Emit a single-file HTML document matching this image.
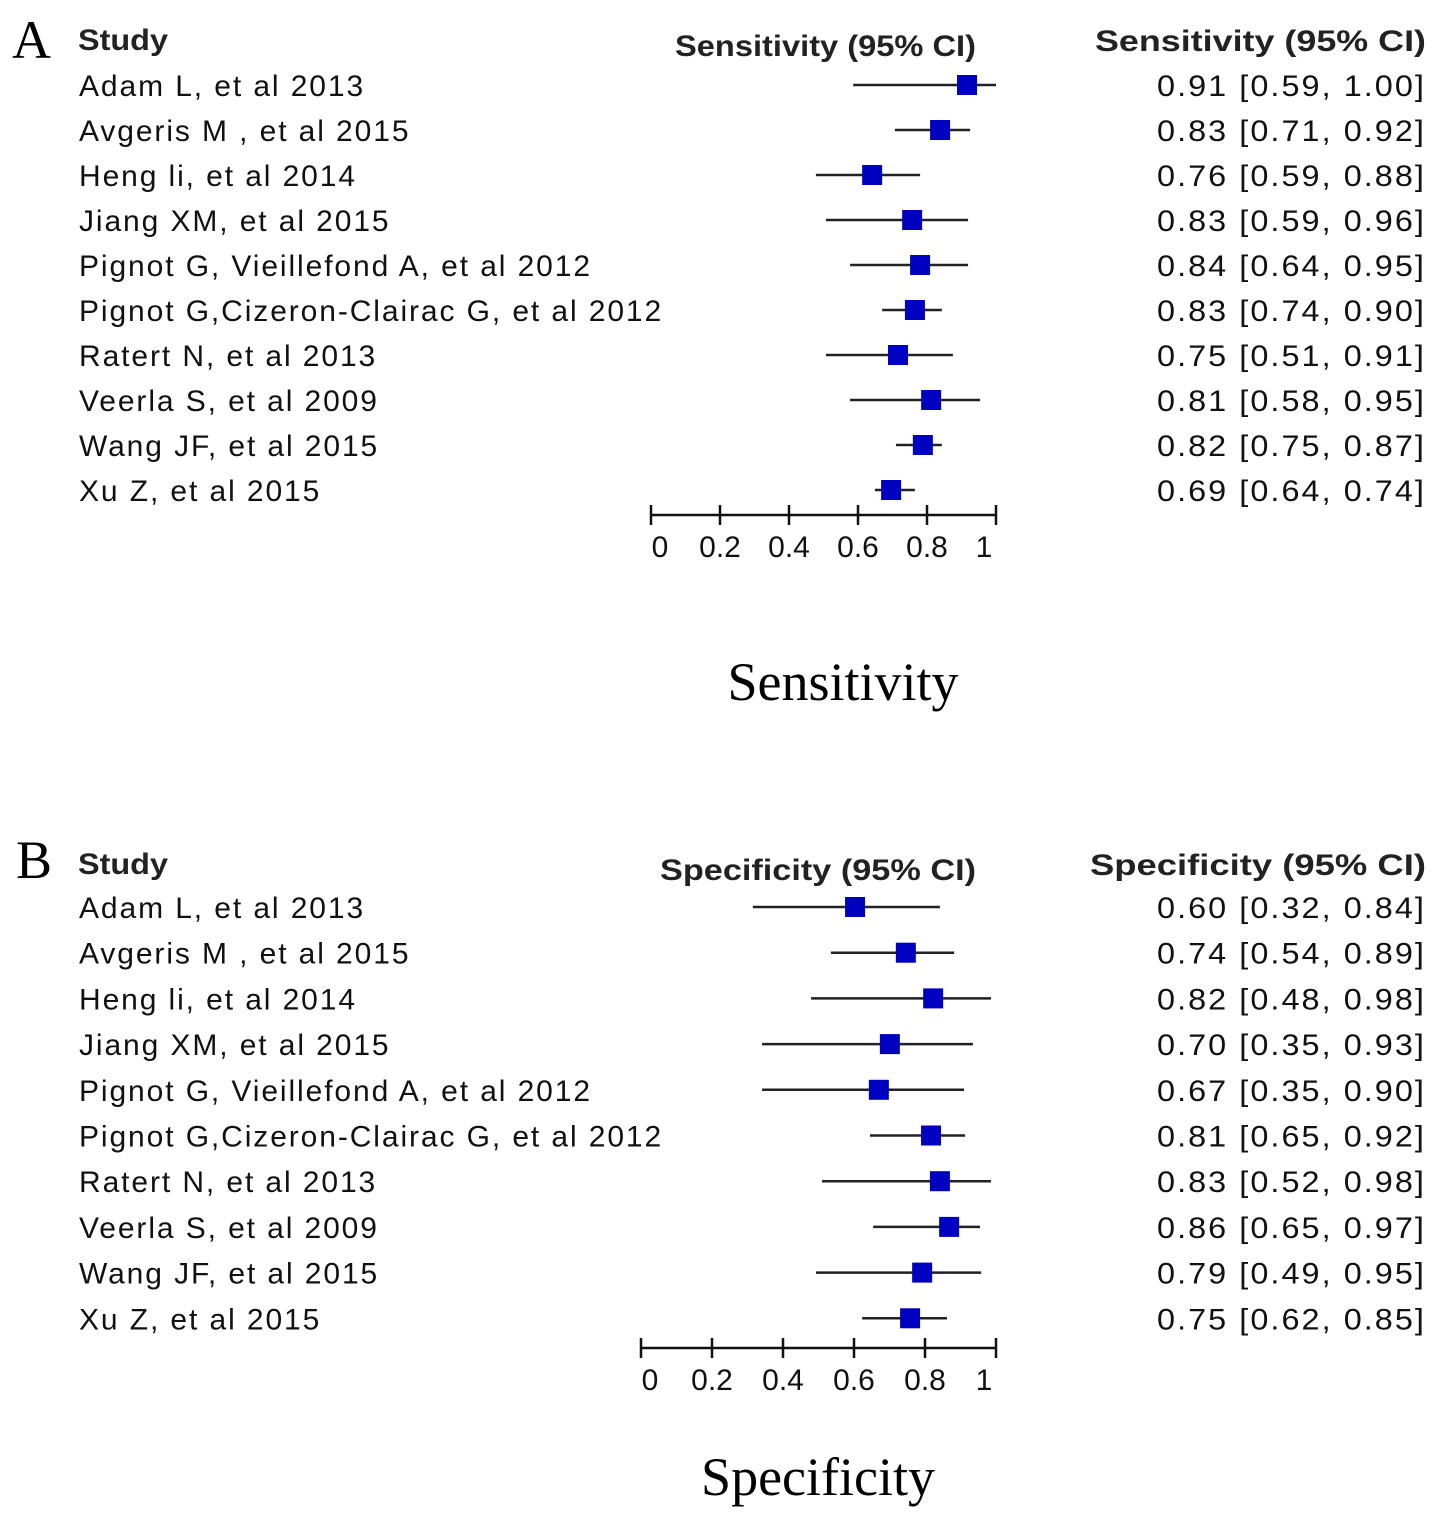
<!DOCTYPE html>
<html><head><meta charset="utf-8"><style>
body{margin:0;background:#fff}
svg{display:block}
.lab{font-family:"Liberation Sans",sans-serif;font-size:30px;letter-spacing:1.9px;fill:#111}
.hdr{font-family:"Liberation Sans",sans-serif;font-size:30px;font-weight:bold;fill:#222}
.tick{font-family:"Liberation Sans",sans-serif;font-size:30px;fill:#111}
.ttl{font-family:"Liberation Serif",serif;font-size:54px;fill:#000}
</style></head><body>
<svg id="chart" width="1441" height="1522" viewBox="0 0 1441 1522"></svg>
<script>
const studies=["Adam L, et al 2013","Avgeris M , et al 2015","Heng li, et al 2014","Jiang XM, et al 2015","Pignot G, Vieillefond A, et al 2012","Pignot G,Cizeron-Clairac G, et al 2012","Ratert N, et al 2013","Veerla S, et al 2009","Wang JF, et al 2015","Xu Z, et al 2015"];
const sensEst=[0.91,0.83,0.76,0.83,0.84,0.83,0.75,0.81,0.82,0.69];
const sensLo=[0.59,0.71,0.59,0.59,0.64,0.74,0.51,0.58,0.75,0.64];
const sensHi=[1.00,0.92,0.88,0.96,0.95,0.90,0.91,0.95,0.87,0.74];
// positions of marks as drawn in the source figure (plotted values)
const sensPlotEst=[0.916,0.838,0.641,0.757,0.780,0.765,0.716,0.812,0.788,0.696];
const sensPlotLo=[0.586,0.707,0.478,0.507,0.577,0.670,0.507,0.577,0.710,0.649];
const sensPlotHi=[1.0,0.925,0.780,0.919,0.919,0.843,0.875,0.954,0.843,0.765];
const specEst=[0.60,0.74,0.82,0.70,0.67,0.81,0.83,0.86,0.79,0.75];
const specLo=[0.32,0.54,0.48,0.35,0.35,0.65,0.52,0.65,0.49,0.62];
const specHi=[0.84,0.89,0.98,0.93,0.90,0.92,0.98,0.97,0.95,0.85];
const specPlotEst=[0.603,0.746,0.823,0.701,0.670,0.817,0.842,0.868,0.792,0.758];
const specPlotLo=[0.315,0.535,0.479,0.341,0.341,0.645,0.510,0.654,0.493,0.623];
const specPlotHi=[0.842,0.882,0.986,0.935,0.910,0.913,0.986,0.955,0.958,0.862];
const ticks=[0,0.2,0.4,0.6,0.8,1];
const tickLabels=["0","0.2","0.4","0.6","0.8","1"];
const NS="http://www.w3.org/2000/svg";
const svg=document.getElementById('chart');
function mk(tag,attrs,txt){const e=document.createElementNS(NS,tag);for(const k in attrs)e.setAttribute(k,attrs[k]);if(txt!==undefined)e.textContent=txt;svg.appendChild(e);return e;}
function panel(p){
  const x=v=>p.x0+v*(p.x1-p.x0);
  const y=i=>p.y0+i*p.dy;
  let e;
  e=mk('text',{x:p.lx,y:p.ly,class:'ttl','font-size':50},p.letter);
  
  
  e=mk('text',{x:78,y:p.hy+2,class:'hdr','font-size':32,textLength:90,lengthAdjust:'spacingAndGlyphs'},'Study');
  
  
  e=mk('text',{x:p.h1x,y:p.hy+8,class:'hdr',textLength:p.h1w,lengthAdjust:'spacingAndGlyphs'},p.name+' (95% CI)');
  
  
  e=mk('text',{x:p.h2x,y:p.hy+3,class:'hdr',textLength:1426-p.h2x,lengthAdjust:'spacingAndGlyphs'},p.name+' (95% CI)');
  
  
  for(let i=0;i<studies.length;i++){
    e=mk('text',{x:79,y:y(i)+11,class:'lab'},studies[i]);
    
    
    e=mk('line',{x1:x(p.plo[i]),x2:x(p.phi[i]),y1:y(i),y2:y(i),stroke:'#222','stroke-width':2.5});
    
    
    e=mk('rect',{x:x(p.pest[i])-10,y:y(i)-10,width:20,height:20,fill:'#0000c0'});
    
    
    e=mk('text',{x:1157,y:y(i)+11,class:'lab',textLength:269,lengthAdjust:'spacingAndGlyphs'},p.est[i].toFixed(2)+' ['+p.lo[i].toFixed(2)+', '+p.hi[i].toFixed(2)+']');
    
    
  }
  e=mk('line',{x1:x(0),x2:x(1),y1:p.ay,y2:p.ay,stroke:'#111','stroke-width':2.5});
  
  
  ticks.forEach((t,j)=>{
    e=mk('line',{x1:x(t),x2:x(t),y1:p.ay-10,y2:p.ay+10,stroke:'#111','stroke-width':2.5});
    
    
    e=mk('text',{x:x(t)+(j==0?9:j==5?-12:0),y:p.ay+42,class:'tick','text-anchor':'middle'},tickLabels[j]);
    
    
  });
  e=mk('text',{x:p.tx,y:p.ty,class:'ttl','text-anchor':'middle'},p.name);
  
  
}
panel({letter:'A',lx:12,ly:58,name:'Sensitivity',est:sensEst,lo:sensLo,hi:sensHi,pest:sensPlotEst,plo:sensPlotLo,phi:sensPlotHi,x0:651,x1:996,y0:85,dy:45,ay:515,hy:48,h1x:675,h1w:301,h2x:1095,tx:843,ty:700});
panel({letter:'B',lx:16,ly:878,name:'Specificity',est:specEst,lo:specLo,hi:specHi,pest:specPlotEst,plo:specPlotLo,phi:specPlotHi,x0:641,x1:996,y0:907,dy:45.7,ay:1348,hy:872,h1x:660,h1w:316,h2x:1090,tx:818,ty:1495});
</script>
</body></html>
